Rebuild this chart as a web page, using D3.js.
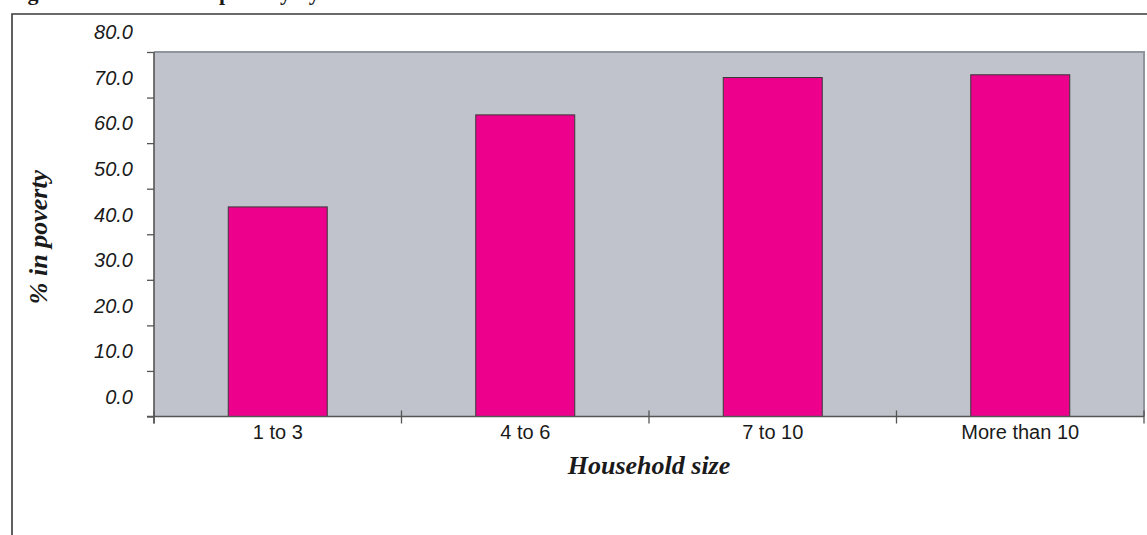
<!DOCTYPE html>
<html>
<head>
<meta charset="utf-8">
<script src="https://cdn.jsdelivr.net/npm/d3@7"></script>
<style>
  html, body { margin: 0; padding: 0; background: #ffffff; }
  svg { display: block; }
</style>
</head>
<body>
<svg id="chart" width="1147" height="535"></svg>
<script>
// Household size categories and the share of each group living in poverty (%)
const categories = ["1 to 3", "4 to 6", "7 to 10", "More than 10"];
const povertyRate = [46.0, 66.2, 74.4, 75.0];
const yTicks = [0, 10, 20, 30, 40, 50, 60, 70, 80];

const titleText = "Figure 5: Incidence of poverty by household size";
const xTitle = "Household size";
const yTitle = "% in poverty";

const svg = d3.select("#chart");
const W = 1147, H = 535;
const plot = { left: 154, right: 1144, top: 52, bottom: 416.5 };

const sans = "'Liberation Sans', Arial, sans-serif";
const serif = "'Liberation Serif', 'Times New Roman', serif";

// Page title, sitting right at the top edge of the page
svg.append("text")
  .attr("x", 8).attr("y", -0.5)
  .attr("font-family", serif).attr("font-weight", "bold")
  .attr("font-size", 22).attr("fill", "#1a1a1a")
  .text(titleText);

// Outer frame around the figure
svg.append("path")
  .attr("d", `M12,${H + 5}V14H${W + 5}`)
  .attr("fill", "none").attr("stroke", "#3a3a3a").attr("stroke-width", 1.6);

const x = d3.scaleBand().domain(categories)
  .range([plot.left, plot.right]).paddingInner(0.6).paddingOuter(0.3);
const xBound = d3.scaleBand().domain(categories).range([plot.left, plot.right]);
const y = d3.scaleLinear().domain([0, 80]).range([plot.bottom, plot.top]);

// Plot background
svg.append("rect")
  .attr("x", plot.left).attr("y", plot.top)
  .attr("width", plot.right - plot.left).attr("height", plot.bottom - plot.top)
  .attr("fill", "#c0c3cb");
svg.append("path")
  .attr("d", `M${plot.left},${plot.top}H${plot.right}V${plot.bottom}`)
  .attr("fill", "none").attr("stroke", "#8e959d").attr("stroke-width", 2);

// Bars
svg.append("g").selectAll("rect")
  .data(categories)
  .join("rect")
  .attr("x", d => x(d))
  .attr("width", x.bandwidth())
  .attr("y", (d, i) => y(povertyRate[i]))
  .attr("height", (d, i) => y(0) - y(povertyRate[i]))
  .attr("fill", "#ec008c")
  .attr("stroke", "#3a3a3a").attr("stroke-width", 1);

// Y axis: tick labels sit between the tick marks
const yAxis = svg.append("g")
  .attr("transform", `translate(${plot.left},0)`)
  .call(d3.axisLeft(y).tickValues(yTicks).tickSize(7).tickSizeOuter(0)
    .tickFormat(d3.format(".1f")));
yAxis.select(".domain").attr("stroke", "#555").attr("stroke-width", 1.6)
  .attr("d", `M0,${plot.top}V${plot.bottom + 7}`);
yAxis.selectAll(".tick line").attr("stroke", "#555").attr("stroke-width", 1.3);
yAxis.selectAll(".tick text")
  .attr("x", -21).attr("dy", "-0.66em")
  .attr("font-family", sans).attr("font-style", "italic")
  .attr("font-size", 20).attr("fill", "#1a1a1a");

// X axis: ticks at category boundaries, crossing the axis line
const xAxisG = svg.append("g");
xAxisG.append("line")
  .attr("x1", plot.left - 7).attr("x2", plot.right)
  .attr("y1", plot.bottom).attr("y2", plot.bottom)
  .attr("stroke", "#555").attr("stroke-width", 1.6);
const bounds = categories.map(c => xBound(c)).concat([xBound.range()[1]]);
xAxisG.selectAll("line.tick")
  .data(bounds)
  .join("line").attr("class", "tick")
  .attr("x1", d => d).attr("x2", d => d)
  .attr("y1", plot.bottom - 6).attr("y2", plot.bottom + 7)
  .attr("stroke", "#555").attr("stroke-width", 1.3);
xAxisG.selectAll("text")
  .data(categories)
  .join("text")
  .attr("x", d => xBound(d) + xBound.bandwidth() / 2)
  .attr("y", 439)
  .attr("text-anchor", "middle")
  .attr("font-family", sans).attr("font-size", 20).attr("fill", "#1a1a1a")
  .text(d => d);

// Axis titles
svg.append("text")
  .attr("x", (plot.left + plot.right) / 2).attr("y", 474)
  .attr("text-anchor", "middle")
  .attr("font-family", serif).attr("font-weight", "bold").attr("font-style", "italic")
  .attr("font-size", 26).attr("fill", "#1a1a1a")
  .text(xTitle);
svg.append("text")
  .attr("transform", "translate(47,237) rotate(-90)")
  .attr("text-anchor", "middle")
  .attr("font-family", serif).attr("font-weight", "bold").attr("font-style", "italic")
  .attr("font-size", 26).attr("fill", "#1a1a1a")
  .text(yTitle);
</script>
</body>
</html>
